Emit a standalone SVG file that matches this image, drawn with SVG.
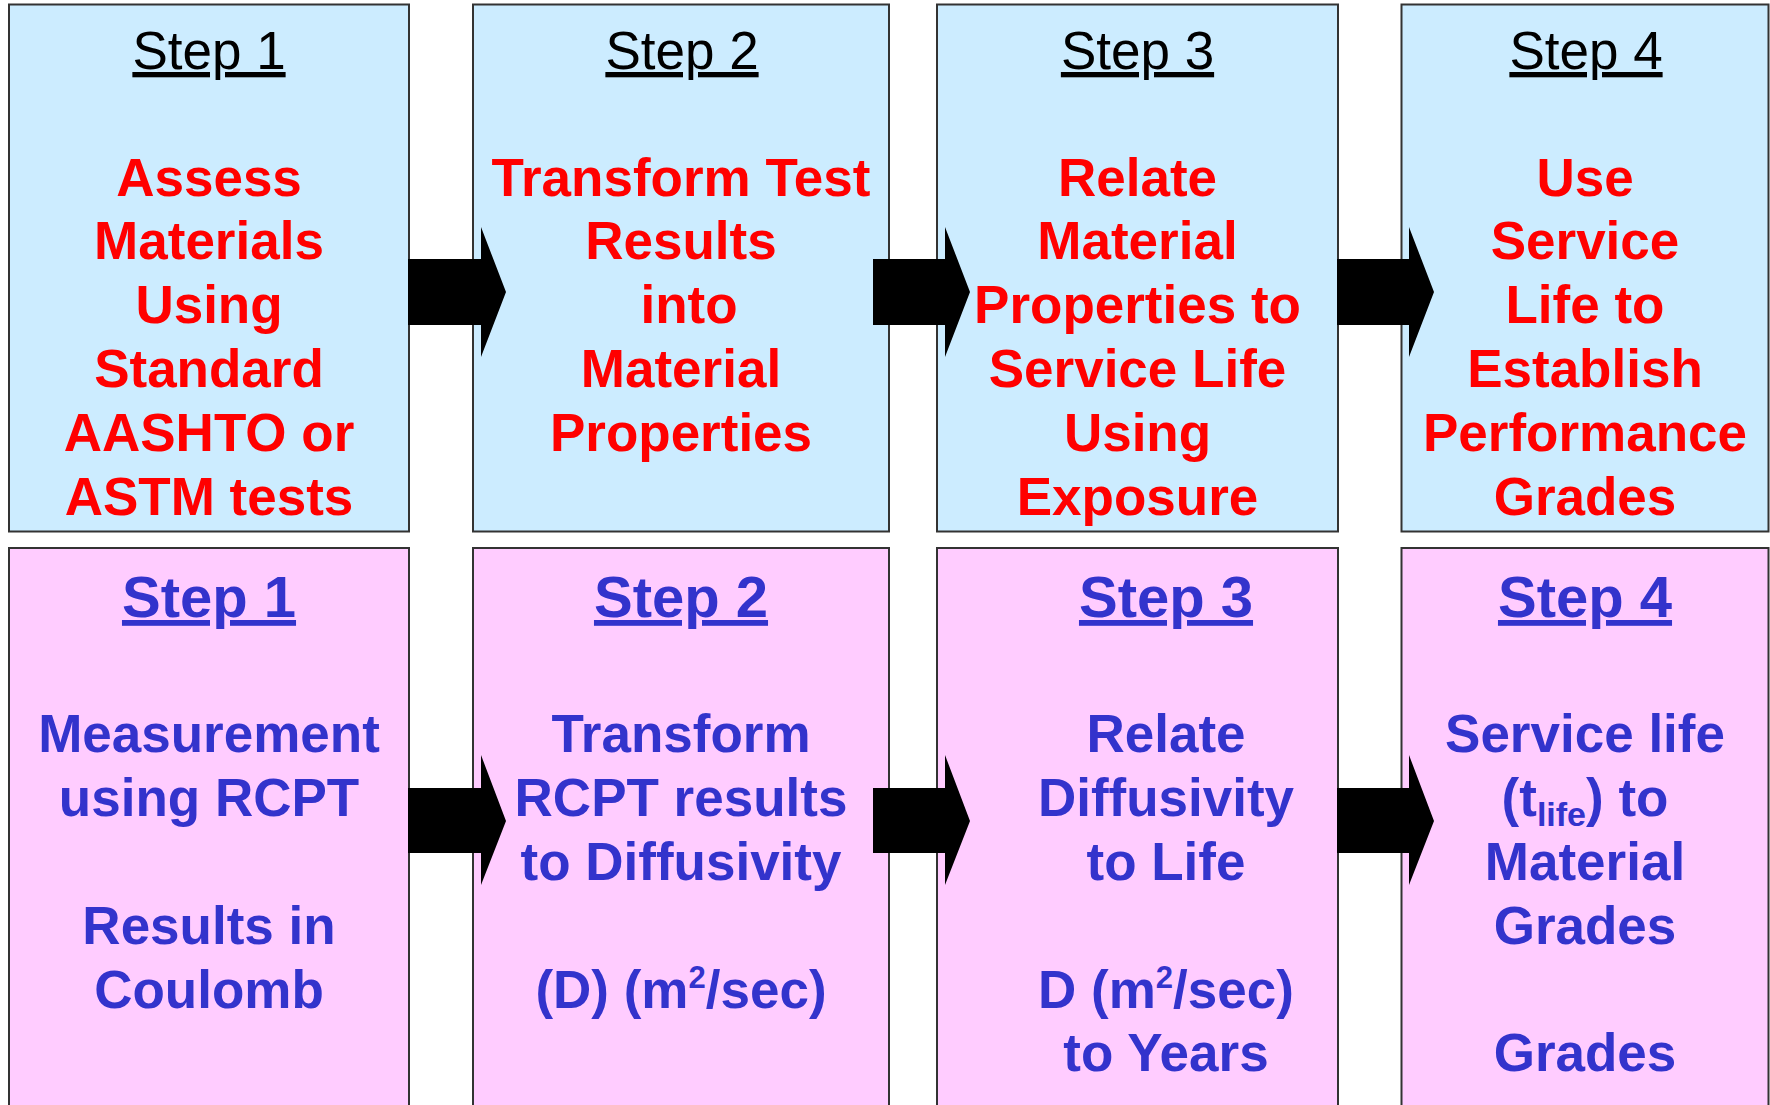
<svg xmlns="http://www.w3.org/2000/svg" width="1770" height="1105" viewBox="0 0 1770 1105">
<style>
.top{fill:#CCECFF;stroke:#333;stroke-width:2}
.bot{fill:#FFCCFF;stroke:#333;stroke-width:2}
text{font-family:"Liberation Sans",Arial,sans-serif;text-anchor:middle}
.h1{font-size:53px;fill:#000;text-decoration:underline}
.b1{font-size:53px;font-weight:bold;fill:#FF0000}
.h2{font-size:58px;font-weight:bold;fill:#3333CC;text-decoration:underline}
.b2{font-size:53px;font-weight:bold;fill:#3333CC}
.sm{font-size:31px}
.arrow{fill:#000}
</style>
<rect width="1770" height="1105" fill="#fff"/>
<g id="top1">
<rect class="top" x="9" y="4.5" width="400" height="527"/>
<text class="h1" x="209" y="69">Step 1</text>
<text class="b1" x="209" y="195.5">Assess</text>
<text class="b1" x="209" y="259.4">Materials</text>
<text class="b1" x="209" y="323.3">Using</text>
<text class="b1" x="209" y="387.2">Standard</text>
<text class="b1" x="209" y="451.1">AASHTO or</text>
<text class="b1" x="209" y="515">ASTM tests</text>
</g>
<g id="top2">
<rect class="top" x="473" y="4.5" width="416" height="527"/>
<text class="h1" x="682" y="69">Step 2</text>
<text class="b1" x="681" y="195.5">Transform Test</text>
<text class="b1" x="681" y="259.4">Results</text>
<text class="b1" x="689" y="323.3">into</text>
<text class="b1" x="681" y="387.2">Material</text>
<text class="b1" x="681" y="451.1">Properties</text>
</g>
<g id="top3">
<rect class="top" x="937" y="4.5" width="401" height="527"/>
<text class="h1" x="1137.5" y="69">Step 3</text>
<text class="b1" x="1137.5" y="195.5">Relate</text>
<text class="b1" x="1137.5" y="259.4">Material</text>
<text class="b1" x="1137.5" y="323.3">Properties to</text>
<text class="b1" x="1137.5" y="387.2">Service Life</text>
<text class="b1" x="1137.5" y="451.1">Using</text>
<text class="b1" x="1137.5" y="515">Exposure</text>
</g>
<g id="top4">
<rect class="top" x="1401.5" y="4.5" width="367" height="527"/>
<text class="h1" x="1586" y="69">Step 4</text>
<text class="b1" x="1585" y="195.5">Use</text>
<text class="b1" x="1585" y="259.4">Service</text>
<text class="b1" x="1585" y="323.3">Life to</text>
<text class="b1" x="1585" y="387.2">Establish</text>
<text class="b1" x="1585" y="451.1">Performance</text>
<text class="b1" x="1585" y="515">Grades</text>
</g>
<g id="bot1">
<rect class="bot" x="9" y="548" width="400" height="570"/>
<text class="h2" x="209" y="617">Step 1</text>
<text class="b2" x="209" y="752">Measurement</text>
<text class="b2" x="209" y="816">using RCPT</text>
<text class="b2" x="209" y="944">Results in</text>
<text class="b2" x="209" y="1008">Coulomb</text>
</g>
<g id="bot2">
<rect class="bot" x="473" y="548" width="416" height="570"/>
<text class="h2" x="681" y="617">Step 2</text>
<text class="b2" x="681" y="752">Transform</text>
<text class="b2" x="681" y="816">RCPT results</text>
<text class="b2" x="681" y="880">to Diffusivity</text>
<text class="b2" x="681" y="1008">(D) (m<tspan class="sm" dy="-20">2</tspan><tspan dy="20">/sec)</tspan></text>
</g>
<g id="bot3">
<rect class="bot" x="937" y="548" width="401" height="570"/>
<text class="h2" x="1166" y="617">Step 3</text>
<text class="b2" x="1166" y="752">Relate</text>
<text class="b2" x="1166" y="816">Diffusivity</text>
<text class="b2" x="1166" y="880">to Life</text>
<text class="b2" x="1166" y="1008">D (m<tspan class="sm" dy="-20">2</tspan><tspan dy="20">/sec)</tspan></text>
<text class="b2" x="1166" y="1071">to Years</text>
</g>
<g id="bot4">
<rect class="bot" x="1401.5" y="548" width="367" height="570"/>
<text class="h2" x="1585" y="617">Step 4</text>
<text class="b2" x="1585" y="752">Service life</text>
<text class="b2" x="1585" y="816">(t<tspan style="font-size:34px" dy="10">life</tspan><tspan dy="-10">) to</tspan></text>
<text class="b2" x="1585" y="880">Material</text>
<text class="b2" x="1585" y="944">Grades</text>
<text class="b2" x="1585" y="1071">Grades</text>
</g>
<g id="connectors">
<polygon class="arrow" points="408,259 481,259 481,227 506,292 481,357 481,325 408,325"/>
<polygon class="arrow" points="873,259 945,259 945,227 970,292 945,357 945,325 873,325"/>
<polygon class="arrow" points="1337,259 1409,259 1409,227 1434,292 1409,357 1409,325 1337,325"/>
<polygon class="arrow" points="408,788 481,788 481,755 506,821 481,885 481,853 408,853"/>
<polygon class="arrow" points="873,788 945,788 945,755 970,821 945,885 945,853 873,853"/>
<polygon class="arrow" points="1337,788 1409,788 1409,755 1434,821 1409,885 1409,853 1337,853"/>
</g>
</svg>
